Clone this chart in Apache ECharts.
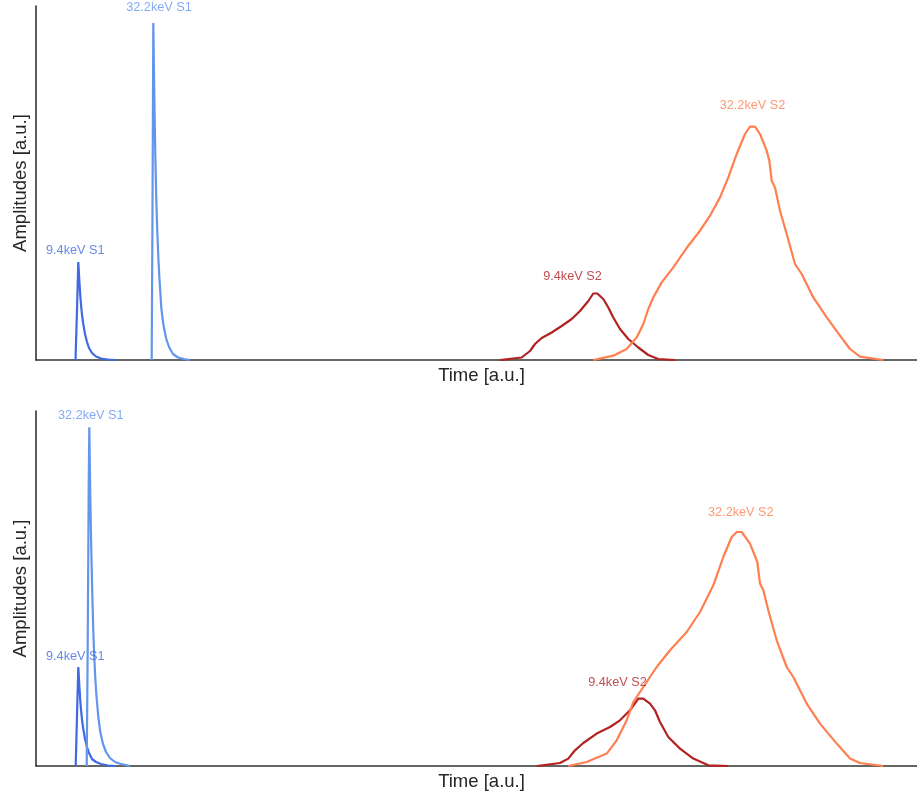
<!DOCTYPE html>
<html>
<head>
<meta charset="utf-8">
<script src="https://cdn.jsdelivr.net/npm/echarts@6/dist/echarts.min.js"></script>
<style>html,body{margin:0;padding:0;background:#fff;overflow:hidden;}#c{width:917px;height:797px;}</style>
</head>
<body>
<div id="c"></div>
<script>
// ---- Data (time and amplitude in arbitrary units) ----
// Top panel
const topS1_94 = [[39.5,0],[41,50],[42.3,98],[43.3,80],[44.3,64],[45.3,52],[46.3,43],[47.3,36],[49,26],[51,18],[53,12],[56,7],[60,3.5],[65,1.5],[72,0.5],[79,0]];
const topS1_322 = [[115.7,0],[116.5,150],[117.3,337],[118.3,265],[119.3,205],[120.3,160],[121.3,128],[122.3,103],[123.3,84],[125.3,52],[127.3,36],[130,22],[133,13],[137,6],[142,2.5],[148,1],[154,0]];
const topS2_94 = [[464,0],[485.7,2.5],[494,9],[499,16],[505.7,22],[515.7,27.5],[525.7,34],[535.7,41],[544,49],[552.3,59],[557.3,66.5],[561.3,66.5],[567.3,61],[572.3,52.5],[577.3,42.5],[584,31],[592.3,21],[602.3,12.5],[612.3,5],[622.3,1],[639,0]];
const topS2_322 = [[557.3,0],[577.3,4.3],[590.7,11],[600.7,22.6],[607.3,36],[612.3,51],[617.3,62.6],[625.7,77.6],[637.3,92.6],[652.3,114.3],[664,129.3],[674,144.3],[684,162.6],[692.3,182.6],[700.7,206],[709,226],[714,233.3],[719,233.3],[724,226],[730.7,209.3],[733.3,199.3],[735.7,179.3],[739,172.6],[744,149.3],[750.7,126],[759,96],[765.7,86],[777.3,62.6],[790.7,42.6],[804,24.3],[814,11],[824,3.3],[847.3,0]];
// Bottom panel
const botS1_94 = [[39.7,0],[41,50],[42.3,99],[43.3,81],[44.3,65],[45.3,53],[46.3,44],[47.3,37],[49,27],[51,19],[53,13],[56,7],[60,4],[65,2],[72,0.5],[80,0]];
const botS1_322 = [[50.7,0],[51.7,120],[52.7,280],[53.3,338.7],[54.3,270],[55.3,215],[56.3,172],[57.3,135],[58.3,108],[59.3,88],[60.3,72],[62.3,49],[64.3,34],[67,22],[70,14],[74,8],[79,4],[85,2],[94,0]];
const botS2_94 = [[500.7,0],[524,3],[532.3,7.4],[539,15.7],[547.3,23],[560.7,32.4],[574,39],[584,45.7],[594,55.7],[602.3,67.4],[607.3,67.4],[614,62.4],[619,55.7],[624,44],[632.3,29],[644,17.4],[657.3,7.4],[672.3,0.7],[692.3,0]];
const botS2_322 = [[532.3,0],[550.7,4],[570.7,12.4],[580.7,25.7],[590.7,45.7],[597.3,64],[607.3,79],[620.7,99],[634,115.7],[650.7,134],[664,154],[677.3,180.7],[687.3,209],[695.7,229],[700.7,234],[705.7,234],[714,222.4],[721.3,204],[724,182.4],[727.3,175.7],[732.3,155.7],[740.7,125.7],[750.7,99],[757.3,89],[770.7,62.4],[784,42.4],[800.7,22.4],[814,7.4],[824,3],[847.3,0]];

// Annotation labels: [time, amplitude, text]
const topLabels = [[39.3,110,'9.4keV S1'],[123,353,'32.2keV S1'],[536.5,83.3,'9.4keV S2'],[716.5,254.3,'32.2keV S2']];
const botLabels = [[39.3,109.3,'9.4keV S1'],[54.8,351,'32.2keV S1'],[581.5,83.3,'9.4keV S2'],[704.8,253.7,'32.2keV S2']];
const labelColors = ['#4169E1','#6495ED','#B22222','#FF7F50'];

const C94S1 = '#4169E1', C322S1 = '#6495ED', C94S2 = '#B22222', C322S2 = '#FF7F50';

function lineSeries(data, color, idx) {
  return { type:'line', data:data, xAxisIndex:idx, yAxisIndex:idx, showSymbol:false, symbol:'none',
    lineStyle:{color:color, width:2.2}, itemStyle:{color:color}, smooth:false, animation:false, z:2 };
}
function labelSeries(labels, idx) {
  return { type:'scatter', xAxisIndex:idx, yAxisIndex:idx, symbolSize:0, animation:false, silent:true, z:5,
    data: labels.map((l,i)=>({value:[l[0],l[1]], name:l[2],
      label:{show:true, position:'inside', formatter:l[2], color:labelColors[i], fontSize:12.7, fontFamily:'Liberation Sans, Arial, sans-serif'}}))
  };
}
const axisLine = {show:true, lineStyle:{color:'#333333', width:1.6}};
const nameStyle = {color:'#262626', fontSize:18.5, fontFamily:'Liberation Sans, Arial, sans-serif'};
function xAx(idx){ return { type:'value', gridIndex:idx, min:0, max:881, axisLine:axisLine, axisTick:{show:false}, axisLabel:{show:false}, splitLine:{show:false},
  name:'Time [a.u.]', nameLocation:'middle', nameGap:6, nameTextStyle:Object.assign({verticalAlign:'top', padding:[0,0,0,10]},nameStyle) }; }
function yAx(idx,max){ return { type:'value', gridIndex:idx, min:0, max:max, axisLine:axisLine, axisTick:{show:false}, axisLabel:{show:false}, splitLine:{show:false},
  name:'Amplitudes [a.u.]', nameLocation:'middle', nameGap:6, nameTextStyle:nameStyle }; }

const chart = echarts.init(document.getElementById('c'), null, {renderer:'canvas'});
chart.setOption({
  backgroundColor:'#ffffff',
  animation:false,
  grid:[{left:36, right:0, top:6, height:354}, {left:36, right:0, top:411, height:355}],
  xAxis:[xAx(0), xAx(1)],
  yAxis:[yAx(0,354), yAx(1,355)],
  series:[
    lineSeries(topS1_94, C94S1, 0), lineSeries(topS1_322, C322S1, 0), lineSeries(topS2_94, C94S2, 0), lineSeries(topS2_322, C322S2, 0),
    lineSeries(botS1_94, C94S1, 1), lineSeries(botS1_322, C322S1, 1), lineSeries(botS2_94, C94S2, 1), lineSeries(botS2_322, C322S2, 1),
    labelSeries(topLabels, 0), labelSeries(botLabels, 1)
  ]
});
</script>
</body>
</html>
